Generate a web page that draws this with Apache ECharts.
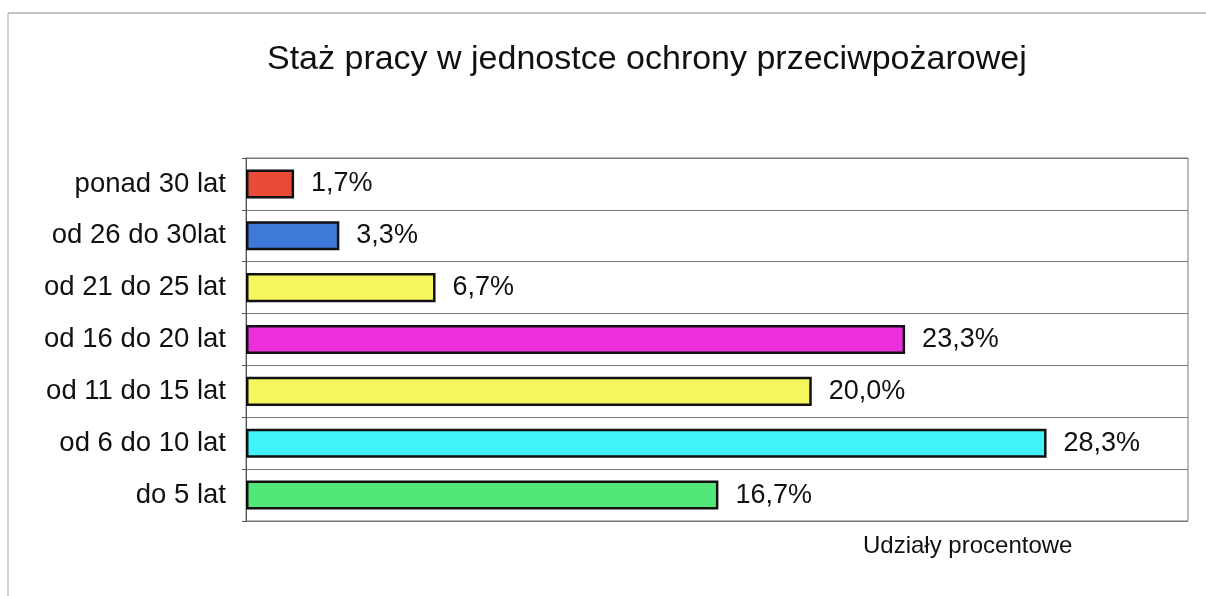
<!DOCTYPE html>
<html>
<head>
<meta charset="utf-8">
<script src="https://cdn.jsdelivr.net/npm/echarts@6/dist/echarts.min.js"></script>
<style>html,body{margin:0;padding:0;background:#fff}#c{width:1206px;height:596px}</style>
</head>
<body>
<div id="c"></div>
<script>
const categories = ['do 5 lat','od 6 do 10 lat','od 11 do 15 lat','od 16 do 20 lat','od 21 do 25 lat','od 26 do 30lat','ponad 30 lat'];
const values = [16.7, 28.3, 20.0, 23.3, 6.7, 3.3, 1.7];
const colors = ['#52e879','#3ff3f8','#f7f55e','#ee30dc','#f7f55e','#3e79d9','#ea4a38'];
const titleText = 'Staż pracy w jednostce ochrony przeciwpożarowej';
const axisName = 'Udziały procentowe';

const FONT = 'Liberation Sans, Arial, sans-serif';
const chart = echarts.init(document.getElementById('c'), null, {renderer:'canvas'});
chart.setOption({
  animation:false,
  backgroundColor:'#fff',
  title:[{text:titleText,left:262,top:38,textStyle:{fontFamily:FONT,fontSize:34,fontWeight:'normal',color:'#111'}},
         {text:axisName,left:858,top:529,textStyle:{fontFamily:FONT,fontSize:24,fontWeight:'normal',color:'#111'}}],
  graphic:[
    {type:'line',shape:{x1:8,y1:13,x2:1206,y2:13},style:{stroke:'#888',lineWidth:1}},
    {type:'line',shape:{x1:8,y1:13,x2:8,y2:596},style:{stroke:'#aaa',lineWidth:1}}
  ],
  grid:{left:246,right:18,top:158,bottom:75,show:true,borderColor:'#777',borderWidth:1},
  xAxis:{type:'value',min:0,max:33.3,show:false,splitLine:{show:false}},
  yAxis:{type:'category',data:categories,
    axisLine:{show:true,lineStyle:{color:'#555',width:1}},
    axisTick:{show:true,length:4,lineStyle:{color:'#555'}},
    axisLabel:{fontFamily:FONT,fontSize:27.5,color:'#111',margin:20},
    splitLine:{show:true,lineStyle:{color:'#777',width:1}}},
  series:[{type:'bar',data:values.map((v,i)=>({value:v,itemStyle:{color:colors[i]}})),
    barCategoryGap:'44%',
    itemStyle:{borderColor:'#111',borderWidth:2.5},
    label:{show:true,position:'right',distance:17,fontFamily:FONT,fontSize:27,color:'#111',
      formatter:p=>p.value.toFixed(1).replace('.',',')+'%'}}]
});
</script>
</body>
</html>
